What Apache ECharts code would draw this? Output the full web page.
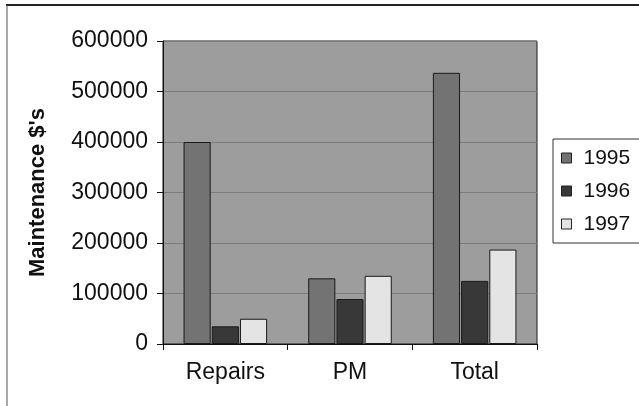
<!DOCTYPE html>
<html>
<head>
<meta charset="utf-8">
<script src="https://cdn.jsdelivr.net/npm/echarts@6/dist/echarts.min.js"></script>
<style>
  html, body { margin: 0; padding: 0; background: #fff; }
  #chart { width: 639px; height: 406px; }
</style>
</head>
<body>
<div id="chart"></div>
<script>
// Maintenance spending by type of work, 1995-1997
const categories = ['Repairs', 'PM', 'Total'];
const years = ['1995', '1996', '1997'];
const spend1995 = [400000, 130000, 537000];
const spend1996 = [35000, 89000, 125000];
const spend1997 = [50000, 135000, 187000];
const yTicks = { min: 0, max: 600000, step: 100000 };

const barColors = ['#737373', '#383838', '#e4e4e4'];
const font = 'Liberation Sans, Arial, sans-serif';

const chart = echarts.init(document.getElementById('chart'), null, { renderer: 'canvas' });

const seriesData = [spend1995, spend1996, spend1997];

chart.setOption({
  backgroundColor: '#ffffff',
  animation: false,
  textStyle: { fontFamily: font },
  graphic: [
    { type: 'line', shape: { x1: 6, y1: 5, x2: 639, y2: 5 }, style: { stroke: '#222', lineWidth: 2 } },
    { type: 'line', shape: { x1: 7, y1: 5, x2: 7, y2: 406 }, style: { stroke: '#555', lineWidth: 1 } }
  ],
  grid: {
    left: 163, top: 41, width: 374, height: 303,
    show: true,
    backgroundColor: '#9d9d9d',
    borderColor: '#1a1a1a',
    borderWidth: 1
  },
  legend: {
    orient: 'vertical',
    left: 553, top: 139,
    data: years,
    itemWidth: 10, itemHeight: 10,
    itemGap: 11,
    padding: [8, 10, 8, 8],
    borderColor: '#333',
    borderWidth: 1,
    icon: 'rect',
    itemStyle: { borderColor: '#222', borderWidth: 1 },
    textStyle: { fontSize: 21, color: '#111', fontFamily: font, lineHeight: 22, padding: [0, 0, 0, 7] }
  },
  xAxis: {
    type: 'category',
    data: categories,
    axisLine: { lineStyle: { color: '#111', width: 1 } },
    axisTick: { show: true, length: 6, lineStyle: { color: '#111' } },
    axisLabel: { fontSize: 23, color: '#111', margin: 17, fontFamily: font },
    splitLine: { show: false }
  },
  yAxis: {
    type: 'value',
    min: yTicks.min, max: yTicks.max, interval: yTicks.step,
    name: "Maintenance $'s",
    nameLocation: 'middle',
    nameGap: 114,
    nameTextStyle: { fontSize: 22, fontWeight: 'bold', color: '#111', fontFamily: font },
    axisLine: { show: true, lineStyle: { color: '#111', width: 1 } },
    axisTick: { show: true, length: 6, lineStyle: { color: '#111' } },
    axisLabel: { fontSize: 23, color: '#111', margin: 15, fontFamily: font, formatter: v => String(v) },
    splitLine: { show: true, lineStyle: { color: '#7c7c7c', width: 1 } }
  },
  series: years.map((y, i) => ({
    name: y,
    type: 'bar',
    data: seriesData[i],
    barGap: '4%',
    barCategoryGap: '33%',
    itemStyle: { color: barColors[i], borderColor: '#1a1a1a', borderWidth: 1 }
  }))
});
</script>
</body>
</html>
